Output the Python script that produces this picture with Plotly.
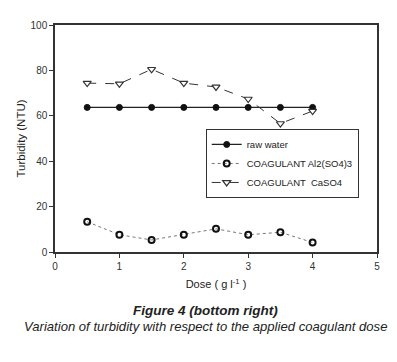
import plotly.graph_objects as go

dose = [0.5, 1.0, 1.5, 2.0, 2.5, 3.0, 3.5, 4.0]
raw_water = [63.7, 63.7, 63.7, 63.7, 63.7, 63.7, 63.7, 63.7]
al2so43 = [13.3, 7.6, 5.3, 7.6, 10.2, 7.6, 8.7, 4.2]
caso4 = [74.4, 74.1, 80.5, 74.4, 72.7, 67.4, 56.6, 62.1]

FONT = "Liberation Sans, Arial, sans-serif"

fig = go.Figure()
fig.add_trace(go.Scatter(
    x=dose, y=raw_water, name="raw water", mode="lines+markers",
    line=dict(color="#222222", width=1.2),
    marker=dict(symbol="circle", size=6, color="#111111", line=dict(color="#111111", width=1)),
))
fig.add_trace(go.Scatter(
    x=dose, y=al2so43, name="COAGULANT Al2(SO4)3", mode="lines+markers",
    line=dict(color="#777777", width=1, dash="dot"),
    marker=dict(symbol="circle-open", size=6, color="#111111", line=dict(color="#111111", width=2)),
))
fig.add_trace(go.Scatter(
    x=dose, y=caso4, name="COAGULANT  CaSO4", mode="lines+markers",
    line=dict(color="#333333", width=1, dash="dash"),
    marker=dict(symbol="triangle-down", size=7, color="white", line=dict(color="#333333", width=1.2)),
))

axis_common = dict(
    showline=True, linecolor="#333333", linewidth=1.5, mirror=True,
    ticks="outside", ticklen=4, tickcolor="#333333", tickwidth=1,
    showgrid=False, zeroline=False,
    tickfont=dict(family=FONT, size=10, color="#333333"),
)

# page body has an 8px default margin, so the figure is sized and offset to compensate
fig.update_layout(
    width=389, height=354,
    margin=dict(l=47, r=20, t=11, b=110),
    paper_bgcolor="white", plot_bgcolor="white",
    font=dict(family=FONT, color="#222222"),
    xaxis=dict(range=[0, 5], tickvals=[0, 1, 2, 3, 4, 5],
               title=dict(text="Dose ( g l<sup>-1</sup> )", font=dict(family=FONT, size=11, color="#222222"), standoff=10),
               **axis_common),
    yaxis=dict(range=[0, 100], tickvals=[0, 20, 40, 60, 80, 100],
               title=dict(text="Turbidity (NTU)", font=dict(family=FONT, size=11.5, color="#222222"), standoff=3),
               **axis_common),
    legend=dict(
        x=0.468, y=0.542, xanchor="left", yanchor="top",
        bordercolor="#333333", borderwidth=1, bgcolor="white",
        font=dict(family=FONT, size=9.5, color="#222222"),
        tracegroupgap=0, itemwidth=30,
    ),
    showlegend=True,
)

fig.add_annotation(
    text="<b><i>Figure 4 (bottom right)</i></b>", xref="paper", yref="paper",
    x=0.466, y=-0.257, showarrow=False, xanchor="center", yanchor="middle",
    font=dict(family=FONT, size=13.5, color="#222222"),
)
fig.add_annotation(
    text="<i>Variation of turbidity with respect to the applied coagulant dose</i>", xref="paper", yref="paper",
    x=0.466, y=-0.33, showarrow=False, xanchor="center", yanchor="middle",
    font=dict(family=FONT, size=13.1, color="#222222"),
)

fig.write_html("out.html")
